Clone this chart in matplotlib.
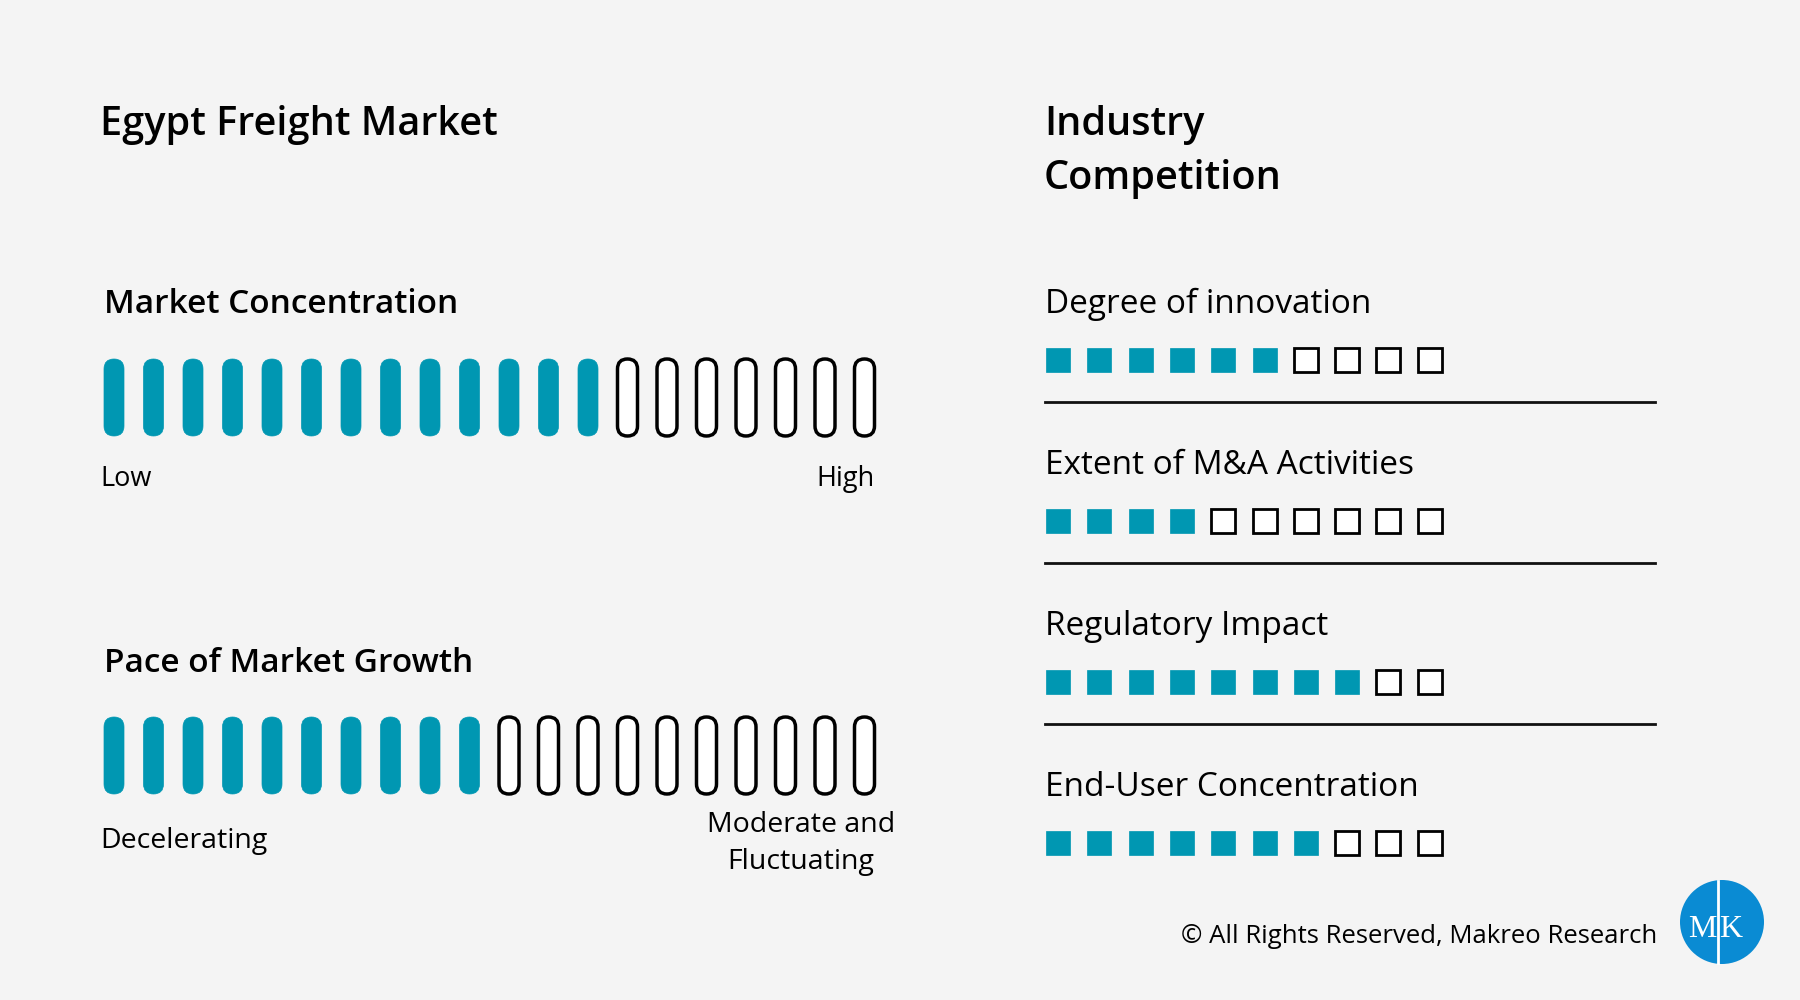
import matplotlib.pyplot as plt
from matplotlib.patches import FancyBboxPatch, Rectangle, Circle

# data
title = "Egypt Freight Market"
conc_label = "Market Concentration"
conc_filled = 13
growth_label = "Pace of Market Growth"
growth_filled = 10
n_bars = 20
comp_labels = ["Degree of innovation", "Extent of M&A Activities",
               "Regulatory Impact", "End-User Concentration"]
comp_scores = [6, 4, 8, 7]
n_boxes = 10

TEAL = "#0097b2"
BG = "#f4f4f4"
HEAD = "Open Sans"
BODY = "Open Sans"

fig = plt.figure(figsize=(18, 10), dpi=100)
fig.patch.set_facecolor(BG)
ax = fig.add_axes([0, 0, 1, 1])
ax.set_xlim(0, 1800)
ax.set_ylim(1000, 0)
ax.axis("off")


def bar_row(top, filled):
    # pill shaped bars, left to right
    for i in range(n_bars):
        x = 104 + i * 39.5
        on = i < filled
        ax.add_patch(FancyBboxPatch(
            (x, top), 20, 77,
            boxstyle="round,pad=0,rounding_size=10",
            facecolor=TEAL if on else "white",
            edgecolor=TEAL if on else "black",
            linewidth=0.5 if on else 2.5))


# left side
ax.text(100, 135, title, fontsize=28.5, family=HEAD, weight="semibold", va="baseline")
ax.text(104, 313, conc_label, fontsize=24, family=HEAD, weight="semibold", va="baseline")
bar_row(359, conc_filled)
ax.text(100, 486, "Low", fontsize=19.5, family=BODY, va="baseline")
ax.text(875, 486, "High", fontsize=19.5, family=BODY, va="baseline", ha="right")

ax.text(104, 672, growth_label, fontsize=24, family=HEAD, weight="semibold", va="baseline")
bar_row(717, growth_filled)
ax.text(100, 848, "Decelerating", fontsize=20.5, family=BODY, va="baseline")
ax.text(801, 832, "Moderate and", fontsize=20.5, family=BODY, va="baseline", ha="center")
ax.text(801, 869, "Fluctuating", fontsize=20.5, family=BODY, va="baseline", ha="center")

# right side
ax.text(1044, 135, "Industry", fontsize=28.5, family=HEAD, weight="semibold", va="baseline")
ax.text(1044, 189, "Competition", fontsize=28.5, family=HEAD, weight="semibold", va="baseline")

for k, (lab, score) in enumerate(zip(comp_labels, comp_scores)):
    y0 = 313 + k * 161
    ax.text(1045, y0, lab, fontsize=24, family=BODY, va="baseline")
    for i in range(n_boxes):
        on = i < score
        ax.add_patch(Rectangle(
            (1046 + i * 41.3, y0 + 35), 24, 24,
            facecolor=TEAL if on else "white",
            edgecolor=TEAL if on else "black",
            linewidth=0.5 if on else 2))
    if k < len(comp_labels) - 1:
        ax.plot([1045, 1655], [y0 + 89, y0 + 89], color="#111111", lw=2)

# footer + logo
ax.text(1657, 943, "\u00a9 All Rights Reserved, Makreo Research", fontsize=18.5,
        family=BODY, va="baseline", ha="right")
ax.add_patch(Circle((1722, 922), 42, facecolor="#0a8bd3", edgecolor="none"))
ax.plot([1718, 1718], [881, 963], color="white", lw=2)
ax.text(1717, 937, "M", fontsize=23, family="Liberation Serif", color="white",
        va="baseline", ha="right")
ax.text(1719, 937, "K", fontsize=23, family="Liberation Serif", color="white",
        va="baseline", ha="left")

fig.savefig("out.png", dpi=100, facecolor=BG)
